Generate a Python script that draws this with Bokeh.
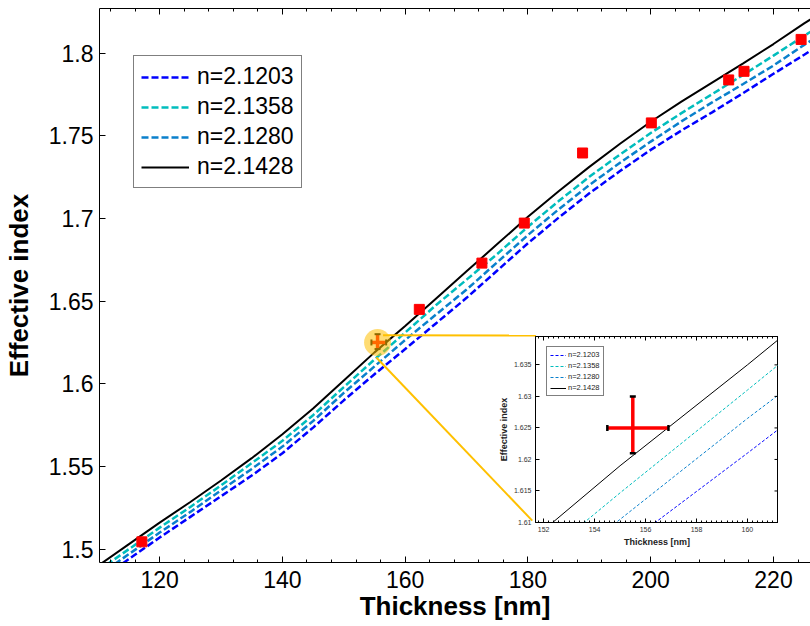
import math
from bokeh.plotting import figure
from bokeh.models import (LinearAxis, SingleIntervalTicker, CustomJSTickFormatter,
                          Legend, LegendItem, Range1d)
from bokeh.layouts import column
from bokeh.embed import file_html
from bokeh.resources import INLINE

# ---------------- data ----------------
thickness = [110, 115, 120, 125, 130, 135, 140, 145, 150, 155, 160, 165, 170,
             175, 180, 185, 190, 195, 200, 205, 210, 215, 220, 225, 228]
n_2_1203 = [1.481, 1.494, 1.507, 1.5195, 1.532, 1.5445, 1.558, 1.5735, 1.590, 1.6058,
            1.621, 1.6365, 1.652, 1.6685, 1.685, 1.7005, 1.7152, 1.7287, 1.7415, 1.7532,
            1.7642, 1.7757, 1.7875, 1.799, 1.806]
n_2_1358 = [1.487, 1.500, 1.513, 1.5255, 1.5385, 1.552, 1.5655, 1.581, 1.598, 1.6147,
            1.631, 1.6475, 1.663, 1.6785, 1.695, 1.7105, 1.7252, 1.7387, 1.7517, 1.7637,
            1.7752, 1.7867, 1.7985, 1.8105, 1.8175]
n_2_1280 = [1.484, 1.497, 1.510, 1.5225, 1.5355, 1.5485, 1.562, 1.5775, 1.5945, 1.6105,
            1.6265, 1.6418, 1.657, 1.6735, 1.690, 1.7055, 1.7202, 1.7337, 1.7465, 1.7587,
            1.7702, 1.7812, 1.7925, 1.805, 1.812]
n_2_1428 = [1.490, 1.503, 1.516, 1.5285, 1.5415, 1.555, 1.5695, 1.585, 1.602, 1.619,
            1.635, 1.6515, 1.668, 1.6845, 1.701, 1.7165, 1.7312, 1.7452, 1.7585, 1.7707,
            1.7822, 1.7937, 1.8055, 1.818, 1.825]
series_labels = ["n=2.1203", "n=2.1358", "n=2.1280", "n=2.1428"]

meas_thickness = [117.1, 162.3, 172.5, 179.4, 188.9, 200.1, 212.7, 215.2, 224.5]
meas_index = [1.5044, 1.645, 1.673, 1.6972, 1.7396, 1.7578, 1.7838, 1.789, 1.8083]

sel_thickness = 155.5
sel_index = 1.625
sel_thickness_lo, sel_thickness_hi = 154.5, 156.9
sel_index_lo, sel_index_hi = 1.621, 1.630

inset_yticks = [1.61, 1.615, 1.62, 1.625, 1.63, 1.635]

# ---------------- styles ----------------
FONT = "Liberation Sans"
colors = ["#0000FF", "#00BDBD", "#0A80CC", "#000000"]
dashes = ["7 3", "7 3", "7 3", "solid"]
inset_dashes = ["3 2", "3 2", "3 2", "solid"]
GOLD = "#FFC000"
series = [n_2_1203, n_2_1358, n_2_1280, n_2_1428]

fmt = CustomJSTickFormatter(code="return parseFloat(tick.toFixed(4)).toString();")


def hidden_axis(ticker, tick_in, minor_in):
    return LinearAxis(ticker=ticker, major_label_text_font_size="1px",
                      major_label_text_color=None, major_label_standoff=0,
                      major_tick_in=tick_in, major_tick_out=0,
                      minor_tick_in=minor_in, minor_tick_out=0,
                      axis_line_color="black")


# ---------------- main figure ----------------
p = figure(width=810, height=626, x_range=Range1d(110.2, 226.03),
           y_range=Range1d(1.4919, 1.827), output_backend="svg",
           toolbar_location=None, min_border_left=99, min_border_right=0,
           min_border_top=8, min_border_bottom=64)
p.outline_line_color = None
p.grid.visible = False
p.background_fill_color = "white"
p.border_fill_color = "white"

xt = SingleIntervalTicker(interval=20, num_minor_ticks=5)
yt = SingleIntervalTicker(interval=0.05, num_minor_ticks=0)
p.xaxis.ticker = xt
p.yaxis.ticker = yt
p.yaxis.formatter = fmt
for ax in (p.xaxis[0], p.yaxis[0]):
    ax.major_tick_in = 6
    ax.major_tick_out = 0
    ax.minor_tick_in = 3
    ax.minor_tick_out = 0
    ax.axis_line_color = "black"
    ax.major_tick_line_color = "black"
    ax.minor_tick_line_color = "black"
    ax.major_label_text_font = FONT
    ax.major_label_text_font_size = "23px"
    ax.major_label_text_color = "black"
    ax.axis_label_text_font = FONT
    ax.axis_label_text_font_size = "26px"
    ax.axis_label_text_font_style = "bold"
    ax.axis_label_text_color = "black"
p.xaxis.axis_label = "Thickness [nm]"
p.yaxis.axis_label = "Effective index"
p.xaxis.major_label_standoff = 8
p.xaxis.axis_label_standoff = 0
p.yaxis.major_label_standoff = 6
p.yaxis.axis_label_standoff = 12

p.add_layout(hidden_axis(xt, 6, 3), "above")

renderers = []
for ys, c, d in zip(series, colors, dashes):
    lw = 2 if d == "solid" else 2.5
    r = p.line(thickness, ys, line_color=c, line_width=lw, line_dash=d)
    renderers.append(r)

p.scatter(meas_thickness, meas_index, marker="square", size=10,
          fill_color="#FF0000", line_color="#FF0000")

# highlighted measurement with error bars
p.segment(x0=[sel_thickness_lo, sel_thickness], y0=[sel_index, sel_index_lo],
          x1=[sel_thickness_hi, sel_thickness], y1=[sel_index, sel_index_hi],
          line_color="red", line_width=3.5)
p.scatter([sel_thickness_lo, sel_thickness_hi], [sel_index, sel_index], marker="dash",
          angle=math.pi / 2, size=6, line_color="black", line_width=2)
p.scatter([sel_thickness, sel_thickness], [sel_index_lo, sel_index_hi], marker="dash",
          size=6, line_color="black", line_width=2)

# zoom connector lines
p.line([156.4, 181.3], [1.6294, 1.6292], line_color=GOLD, line_width=2)
p.line([155.3, 180.7], [1.6159, 1.5172], line_color=GOLD, line_width=2)
p.scatter([sel_thickness], [sel_index], marker="circle", size=27, fill_color=GOLD,
          fill_alpha=0.55, line_color=None)

legend = Legend(items=[LegendItem(label=l, renderers=[r]) for l, r in zip(series_labels, renderers)],
                location=(34, 374), margin=0, padding=7, spacing=3,
                glyph_width=48, glyph_height=22, label_height=22, label_standoff=8,
                label_text_font=FONT, label_text_font_size="23px", label_text_color="black",
                border_line_color="black", border_line_width=1,
                background_fill_color="white", background_fill_alpha=1)
p.add_layout(legend)

# ---------------- inset ----------------
# (left/right borders match the main plot's, since the column aligns them)
q = figure(width=342, height=222, x_range=Range1d(151.68, 161.22),
           y_range=Range1d(1.61, 1.6395), output_backend="svg", toolbar_location=None,
           min_border_left=99, min_border_top=5, min_border_right=0, min_border_bottom=31)
q.border_fill_color = None
q.background_fill_color = "white"
q.outline_line_color = "black"
q.grid.visible = False

qxt = SingleIntervalTicker(interval=2, num_minor_ticks=10)
qyt = SingleIntervalTicker(interval=0.005, num_minor_ticks=0)
q.xaxis.ticker = qxt
q.yaxis.ticker = qyt
q.yaxis.formatter = fmt
for ax in (q.xaxis[0], q.yaxis[0]):
    ax.major_tick_in = 4
    ax.major_tick_out = 0
    ax.minor_tick_in = 2
    ax.minor_tick_out = 0
    ax.axis_line_color = "black"
    ax.major_label_text_font = FONT
    ax.major_label_text_font_size = "7px"
    ax.major_label_text_color = "#333333"
    ax.major_label_standoff = 4
    ax.axis_label_text_font = FONT
    ax.axis_label_text_font_size = "9px"
    ax.axis_label_text_font_style = "bold"
    ax.axis_label_text_color = "#222222"
    ax.axis_label_standoff = 2
q.xaxis.axis_label = "Thickness [nm]"
q.yaxis.axis_label = "Effective index"
q.add_layout(hidden_axis(qxt, 4, 2), "above")

qr = []
for ys, c, d in zip(series, colors, inset_dashes):
    qr.append(q.line(thickness, ys, line_color=c, line_width=1, line_dash=d))

# inward ticks on the right edge of the inset
q.scatter([q.x_range.end] * len(inset_yticks), inset_yticks, marker="dash", size=8,
          line_color="black", line_width=1)

q.segment(x0=[sel_thickness_lo, sel_thickness], y0=[sel_index, sel_index_lo],
          x1=[sel_thickness_hi, sel_thickness], y1=[sel_index, sel_index_hi],
          line_color="red", line_width=3.5)
q.scatter([sel_thickness_lo, sel_thickness_hi], [sel_index, sel_index], marker="dash",
          angle=math.pi / 2, size=6, line_color="black", line_width=2.5)
q.scatter([sel_thickness, sel_thickness], [sel_index_lo, sel_index_hi], marker="dash",
          size=6, line_color="black", line_width=2.5)

qleg = Legend(items=[LegendItem(label=l, renderers=[r]) for l, r in zip(series_labels, qr)],
              location=(11, 126), margin=0, padding=3, spacing=2,
              glyph_width=16, glyph_height=8, label_height=8, label_standoff=2,
              label_text_font=FONT, label_text_font_size="7.5px", label_text_color="#222222",
              border_line_color="black", border_line_width=1,
              background_fill_color="white", background_fill_alpha=1)
q.add_layout(qleg)

q.styles = {"position": "absolute", "left": "436px", "top": "331px", "z-index": "10"}

layout = column(p, q)
open("out.html", "w").write(file_html(layout, INLINE))
